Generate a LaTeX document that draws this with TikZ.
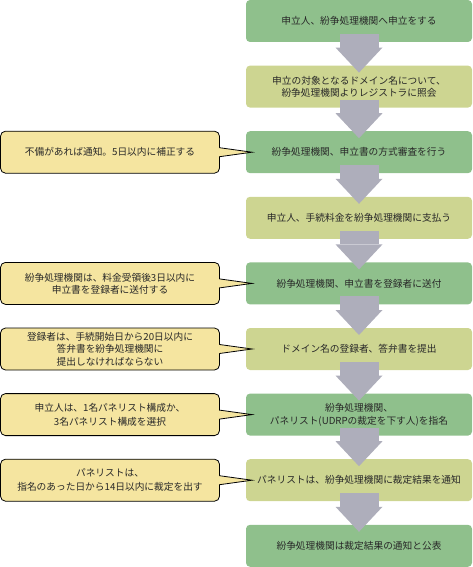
\documentclass[tikz,border=0pt]{standalone}
\usepackage{fontspec}
\setmainfont{Noto Sans CJK JP}
\usepackage{tikz}
\usetikzlibrary{arrows.meta}
\usetikzlibrary{calc}
\definecolor{stagegreen}{RGB}{143,192,140}
\definecolor{stageolive}{RGB}{205,213,145}
\definecolor{arrowgray}{RGB}{174,174,187}
\definecolor{notefill}{RGB}{245,229,160}
\definecolor{textgray}{RGB}{40,40,40}

\begin{document}
\begin{tikzpicture}[x=1pt,y=-1pt]
\tikzstyle{stage}=[rectangle,rounded corners=4pt,minimum width=226pt,minimum height=42pt,inner sep=0pt,outer sep=0pt,align=center,text=textgray,font=\fontsize{9.7}{12}\selectfont]
\tikzstyle{note}=[rectangle,rounded corners=5pt,draw=black,line width=0.8pt,fill=notefill,minimum width=219pt,minimum height=42pt,inner sep=0pt,outer sep=0pt,align=center,text=textgray,font=\fontsize{9.7}{12}\selectfont]
\tikzstyle{flow}=[draw=arrowgray,line width=39pt,-{Triangle[length=25pt,width=47pt,line width=0pt]}]
\useasboundingbox (0,0) rectangle (473,567);
% right column
\node [stage, fill=stagegreen] (stage1) at (359,21) {申立人、紛争処理機関へ申立をする};
\node [stage, fill=stageolive] (stage2) at (359,86.6) {申立の対象となるドメイン名について、\\紛争処理機関よりレジストラに照会};
\node [stage, fill=stagegreen] (stage3) at (359,152.2) {紛争処理機関、申立書の方式審査を行う};
\node [stage, fill=stageolive] (stage4) at (359,217.8) {申立人、手続料金を紛争処理機関に支払う};
\node [stage, fill=stagegreen] (stage5) at (359,283.4) {紛争処理機関、申立書を登録者に送付};
\node [stage, fill=stageolive] (stage6) at (359,349) {ドメイン名の登録者、答弁書を提出};
\node [stage, fill=stagegreen] (stage7) at (359,414.6) {紛争処理機関、\\[1pt]パネリスト(UDRPの裁定を下す人)を指名};
\node [stage, fill=stageolive] (stage8) at (359,480.2) {パネリストは、紛争処理機関に裁定結果を通知};
\node [stage, fill=stagegreen] (stage9) at (359,545.8) {紛争処理機関は裁定結果の通知と公表};
% left notes
\node [note] (note3) at (110,152.2) {不備があれば通知。5日以内に補正する};
\node [note] (note5) at (110,283.4) {紛争処理機関は、料金受領後3日以内に\\申立書を登録者に送付する};
\node [note] (note6) at (110,349) {登録者は、手続開始日から20日以内に\\[0.5pt]答弁書を紛争処理機関に\\[0.5pt]提出しなければならない};
\node [note] (note7) at (110,414.6) {申立人は、1名パネリスト構成か、\\[2.5pt]3名パネリスト構成を選択};
\node [note] (note8) at (110,480.2) {パネリストは、\\[2pt]指名のあった日から14日以内に裁定を出す};
% pointers
\fill [notefill] ([xshift=-2pt,yshift=4.5pt]note3.east) -- ([xshift=6pt]stage3.west) -- ([xshift=-2pt,yshift=-4.5pt]note3.east) -- cycle;
\draw [line width=0.8pt] ([yshift=4.5pt]note3.east) -- ([xshift=6pt]stage3.west) -- ([yshift=-4.5pt]note3.east);
\fill [notefill] ([xshift=-2pt,yshift=4.5pt]note5.east) -- ([xshift=6pt]stage5.west) -- ([xshift=-2pt,yshift=-4.5pt]note5.east) -- cycle;
\draw [line width=0.8pt] ([yshift=4.5pt]note5.east) -- ([xshift=6pt]stage5.west) -- ([yshift=-4.5pt]note5.east);
\fill [notefill] ([xshift=-2pt,yshift=4.5pt]note6.east) -- ([xshift=6pt]stage6.west) -- ([xshift=-2pt,yshift=-4.5pt]note6.east) -- cycle;
\draw [line width=0.8pt] ([yshift=4.5pt]note6.east) -- ([xshift=6pt]stage6.west) -- ([yshift=-4.5pt]note6.east);
\fill [notefill] ([xshift=-2pt,yshift=4.5pt]note7.east) -- ([xshift=6pt]stage7.west) -- ([xshift=-2pt,yshift=-4.5pt]note7.east) -- cycle;
\draw [line width=0.8pt] ([yshift=4.5pt]note7.east) -- ([xshift=6pt]stage7.west) -- ([yshift=-4.5pt]note7.east);
\fill [notefill] ([xshift=-2pt,yshift=4.5pt]note8.east) -- ([xshift=6pt]stage8.west) -- ([xshift=-2pt,yshift=-4.5pt]note8.east) -- cycle;
\draw [line width=0.8pt] ([yshift=4.5pt]note8.east) -- ([xshift=6pt]stage8.west) -- ([yshift=-4.5pt]note8.east);
% flow arrows
\draw [flow] ([yshift=8pt]stage1.south) -- ([yshift=-7pt]stage2.north);
\draw [flow] ([yshift=8pt]stage2.south) -- ([yshift=-7pt]stage3.north);
\draw [flow] ([yshift=8pt]stage3.south) -- ([yshift=-7pt]stage4.north);
\draw [flow] ([yshift=8pt]stage4.south) -- ([yshift=-7pt]stage5.north);
\draw [flow] ([yshift=8pt]stage5.south) -- ([yshift=-7pt]stage6.north);
\draw [flow] ([yshift=8pt]stage6.south) -- ([yshift=-7pt]stage7.north);
\draw [flow] ([yshift=8pt]stage7.south) -- ([yshift=-7pt]stage8.north);
\draw [flow] ([yshift=8pt]stage8.south) -- ([yshift=-7pt]stage9.north);
\end{tikzpicture}
\end{document}
